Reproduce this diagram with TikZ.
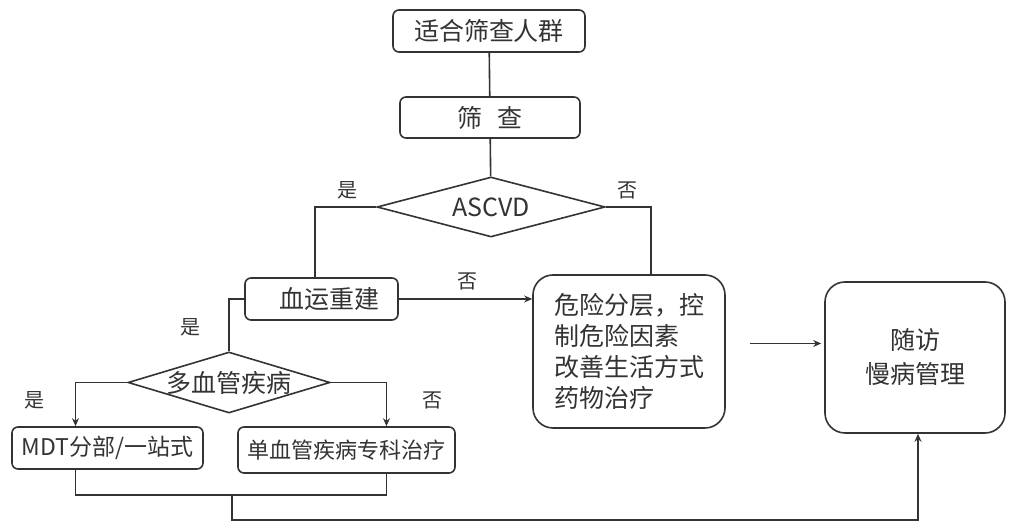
\documentclass[tikz,border=0pt]{standalone}
\usepackage{fontspec}
\setmainfont{Noto Sans CJK SC}
\usetikzlibrary{shapes.geometric,arrows.meta}
\begin{document}
\begin{tikzpicture}[x=0.5pt,y=-0.5pt,line width=0.8pt,color=black!80,
  box/.style={draw,rounded corners=3pt,inner sep=0pt,font=\fontsize{12.5}{15}\selectfont},
  dia/.style={draw,diamond,inner sep=0pt,font=\fontsize{12.5}{15}\selectfont},
  lab/.style={font=\fontsize{10}{12}\selectfont},
  >={Stealth[length=4pt,width=3.5pt]}]
\useasboundingbox (0,0) rectangle (1009,522);
\node[box,minimum width=96pt,minimum height=21pt] (A) at (489,31) {适合筛查人群};
\node[box,minimum width=90pt,minimum height=20.5pt] (B) at (490,117.5) {筛\hspace{0.6em}查};
\node[dia,shape aspect=3.8,minimum width=114pt,minimum height=30pt] (C) at (491,207) {ASCVD};
\node[box,minimum width=76.5pt,minimum height=21pt] (D) at (321.5,299) {\hspace{8pt}血运重建};
\node[dia,shape aspect=3.3,inner sep=-3pt,minimum width=101pt,minimum height=30.5pt] (E) at (229,382.5) {多血管疾病};
\node[box,minimum width=95.5pt,minimum height=21pt,font=\fontsize{11.5}{14}\selectfont] (F) at (107.5,448) {MDT分部/一站式};
\node[box,minimum width=108.5pt,minimum height=23pt,font=\fontsize{11}{13}\selectfont] (G) at (346.5,450) {单血管疾病专科治疗};
\node[box,rounded corners=10pt,minimum width=96pt,minimum height=76.5pt,align=left,font=\fontsize{12.5}{15.5}\selectfont] (R) at (629,351.5) {危险分层，控\\制危险因素\\改善生活方式\\药物治疗};
\node[box,rounded corners=10pt,minimum width=90pt,minimum height=75.5pt,align=center,font=\fontsize{12.5}{17}\selectfont] (H) at (915,357.5) {随访\\慢病管理};
% yes / no
\node[lab] (y1) at (347,190) {是};
\node[lab] (n1) at (627,190) {否};
\node[lab] (n2) at (467,281) {否};
\node[lab] (y2) at (190,327) {是};
\node[lab] (y3) at (35,400) {是};
\node[lab] (n3) at (432,400) {否};
\coordinate (m) at (232,495);
\coordinate (n) at (232,520);
\draw (A) -- (B);
\draw (B) -- (C);
\draw (C.west) -| ([xshift=-3.25pt]D.north);
\draw (C.east) -| ([xshift=11pt]R.north);
\draw[->] (D.east) -- (D.east -| R.west);
\draw (D.west) -| (E.north);
\draw[->] (E.west) -| ([xshift=-16pt]F.north);
\draw[->] (E.east) -| ([xshift=20pt]G.north);
\draw ([xshift=-16pt]F.south) |- (m) -| ([xshift=20pt]G.south);
\draw[->] (m) -- (n) -| ([xshift=1.5pt]H.south);
\draw[->,shorten <=12pt,shorten >=1.5pt] ([yshift=4pt]R.east) -- ([yshift=4pt]R.east -| H.west);
\end{tikzpicture}
\end{document}
